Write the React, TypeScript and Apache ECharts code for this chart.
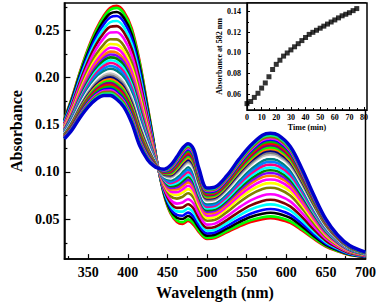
import React, { useEffect, useRef } from "react";
import * as echarts from "echarts";

// Wavelength grid (nm) at which the spectra were read
const wavelengths = [320, 330, 340, 350, 360, 370, 378, 386, 395, 405, 415, 425, 432, 438, 446, 454, 462, 469, 476, 483, 490, 500, 510, 525, 540, 555, 570, 580, 590, 605, 620, 635, 650, 665, 680, 700];

// First spectrum (t = 0, red)
const startSpectrum = [0.156, 0.180, 0.207, 0.231, 0.251, 0.266, 0.274, 0.276, 0.270, 0.252, 0.217, 0.170, 0.136, 0.106, 0.075, 0.056, 0.047, 0.045, 0.048, 0.044, 0.036, 0.029, 0.030, 0.036, 0.042, 0.047, 0.050, 0.051, 0.050, 0.046, 0.038, 0.029, 0.021, 0.016, 0.012, 0.010];

// Last spectrum (t = 75 min, thick blue)
const endSpectrum = [0.135, 0.145, 0.158, 0.169, 0.177, 0.181, 0.181, 0.177, 0.169, 0.152, 0.128, 0.113, 0.107, 0.104, 0.103, 0.107, 0.116, 0.125, 0.130, 0.124, 0.103, 0.083, 0.084, 0.096, 0.113, 0.128, 0.139, 0.141, 0.139, 0.127, 0.103, 0.075, 0.050, 0.033, 0.022, 0.015];

// Inset: absorbance at 582 nm vs time
const times = [0, 2.5, 5, 7.5, 10, 12.5, 15, 17.5, 20, 22.5, 25, 27.5, 30, 32.5, 35, 37.5, 40, 42.5, 45, 47.5, 50, 52.5, 55, 57.5, 60, 62.5, 65, 67.5, 70, 72.5, 75];
const abs582 = [0.051, 0.053, 0.057, 0.061, 0.066, 0.071, 0.077, 0.084, 0.089, 0.093, 0.097, 0.100, 0.103, 0.106, 0.109, 0.112, 0.115, 0.118, 0.120, 0.122, 0.124, 0.126, 0.128, 0.130, 0.132, 0.134, 0.136, 0.1375, 0.139, 0.141, 0.143];

const curveColors = ["#FF0000", "#00FF00", "#000000", "#0000FF", "#00FFFF", "#800000", "#FF00FF", "#808000", "#FFFF00", "#FF00FF", "#FF8000", "#8000FF", "#008000", "#00FFFF", "#FF0080", "#0080FF", "#008080", "#FFFFFF", "#C0C0C0", "#808080", "#000080", "#FF8000", "#00FF00", "#800080", "#FF0000", "#00C000", "#0000FF", "#FF00FF", "#808000", "#00FF80", "#0000CC"];

const xMajor = [350, 400, 450, 500, 550, 600, 650, 700];
const xMinor = [325, 375, 425, 475, 525, 575, 625, 675];
const yMajor = [0.05, 0.1, 0.15, 0.2, 0.25];
const yMinor = [0.025, 0.075, 0.125, 0.175, 0.225, 0.275];
const insetXMajor = [0, 10, 20, 30, 40, 50, 60, 70, 80];
const insetXMinor = [5, 15, 25, 35, 45, 55, 65, 75];
const insetYMajor = [0.06, 0.08, 0.1, 0.12, 0.14];
const insetYMinor = [0.05, 0.07, 0.09, 0.11, 0.13];

const FONT = "'Liberation Serif', 'Times New Roman', 'DejaVu Serif', serif";

export default function App() {
  const ref = useRef<HTMLDivElement>(null);
  useEffect(() => {
    document.body.style.margin = "0";
    const chart = echarts.init(ref.current!, undefined, { renderer: "svg" });
    const k0 = abs582[0];
    const kN = abs582[abs582.length - 1];
    const spectra = times.map((t, i) => {
      const frac = (abs582[i] - k0) / (kN - k0);
      const last = i === times.length - 1;
      return {
        type: "line",
        name: `${t} min`,
        xAxisIndex: 0,
        yAxisIndex: 0,
        showSymbol: false,
        smooth: 0.35,
        data: wavelengths.map((w, j) => [w, startSpectrum[j] + frac * (endSpectrum[j] - startSpectrum[j])]),
        lineStyle: { color: curveColors[i % curveColors.length], width: last ? 3.5 : 2.6 },
        z: 2 + i * 0.01,
      };
    });
    const axisLine = { show: true, lineStyle: { color: "#000", width: 1.5 } };
    const mainLabel = { fontFamily: FONT, fontWeight: "bold", fontSize: 14, color: "#000" };
    const insetLabel = { fontFamily: FONT, fontWeight: "bold", fontSize: 8, color: "#000" };
    chart.setOption({
      animation: false,
      backgroundColor: "#fff",
      grid: [
        { left: 52, top: 3, width: 315, height: 258, show: true, borderColor: "#000", borderWidth: 1.5, backgroundColor: "transparent" },
        { left: 247, top: 3, width: 120, height: 107, show: true, borderColor: "#000", borderWidth: 1.5, backgroundColor: "#fff", z: 10 },
      ],
      xAxis: [
        {
          type: "value", gridIndex: 0, min: 320, max: 700, position: "bottom",
          axisLine, splitLine: { show: false },
          axisTick: { show: true, inside: true, length: 5, customValues: xMajor, lineStyle: { color: "#000", width: 1.2 } },
          axisLabel: { ...mainLabel, margin: 6, customValues: xMajor },
          name: "Wavelength (nm)", nameLocation: "middle", nameGap: 24,
          nameTextStyle: { fontFamily: FONT, fontWeight: "bold", fontSize: 16, color: "#000" },
        },
        {
          type: "value", gridIndex: 0, min: 320, max: 700, position: "bottom",
          axisLine: { show: false }, splitLine: { show: false },
          axisTick: { show: true, inside: true, length: 3, customValues: xMinor, lineStyle: { color: "#000", width: 1.2 } },
          axisLabel: { show: false },
        },
        {
          type: "value", gridIndex: 1, min: 0, max: 82, position: "bottom",
          axisLine: { show: true, lineStyle: { color: "#000", width: 1.2 } }, splitLine: { show: false },
          axisTick: { show: true, inside: true, length: 3, customValues: insetXMajor, lineStyle: { color: "#000", width: 1 } },
          axisLabel: { ...insetLabel, margin: 3, customValues: insetXMajor },
          name: "Time (min)", nameLocation: "middle", nameGap: 13,
          nameTextStyle: { fontFamily: FONT, fontWeight: "bold", fontSize: 8, color: "#000" },
          z: 11,
        },
        {
          type: "value", gridIndex: 1, min: 0, max: 82, position: "bottom",
          axisLine: { show: false }, splitLine: { show: false },
          axisTick: { show: true, inside: true, length: 2, customValues: insetXMinor, lineStyle: { color: "#000", width: 1 } },
          axisLabel: { show: false },
          z: 11,
        },
      ],
      yAxis: [
        {
          type: "value", gridIndex: 0, min: 0.0077, max: 0.279, position: "left",
          axisLine, splitLine: { show: false },
          axisTick: { show: true, inside: true, length: 6, customValues: yMajor, lineStyle: { color: "#000", width: 1.2 } },
          axisLabel: { ...mainLabel, margin: 5, customValues: yMajor, formatter: (v: number) => v.toFixed(2) },
          name: "Absorbance", nameLocation: "middle", nameGap: 35,
          nameTextStyle: { fontFamily: FONT, fontWeight: "bold", fontSize: 16, color: "#000" },
        },
        {
          type: "value", gridIndex: 0, min: 0.0077, max: 0.279, position: "left",
          axisLine: { show: false }, splitLine: { show: false },
          axisTick: { show: true, inside: true, length: 3, customValues: yMinor, lineStyle: { color: "#000", width: 1.2 } },
          axisLabel: { show: false },
        },
        {
          type: "value", gridIndex: 1, min: 0.0448, max: 0.1484, position: "left",
          axisLine: { show: true, lineStyle: { color: "#000", width: 1.2 } }, splitLine: { show: false },
          axisTick: { show: true, inside: true, length: 3, customValues: insetYMajor, lineStyle: { color: "#000", width: 1 } },
          axisLabel: { ...insetLabel, margin: 6, customValues: insetYMajor, formatter: (v: number) => v.toFixed(2) },
          name: "Absorbance at 582 nm", nameLocation: "middle", nameGap: 20,
          nameTextStyle: { fontFamily: FONT, fontWeight: "bold", fontSize: 8, color: "#000" },
          z: 11,
        },
        {
          type: "value", gridIndex: 1, min: 0.0448, max: 0.1484, position: "left",
          axisLine: { show: false }, splitLine: { show: false },
          axisTick: { show: true, inside: true, length: 2, customValues: insetYMinor, lineStyle: { color: "#000", width: 1 } },
          axisLabel: { show: false },
          z: 11,
        },
      ],
      series: [
        ...spectra,
        {
          type: "scatter",
          name: "A582",
          xAxisIndex: 2,
          yAxisIndex: 2,
          symbol: "rect",
          symbolSize: 5,
          itemStyle: { color: "#000" },
          data: times.map((t, i) => [t, abs582[i]]),
          z: 12,
        },
      ],
    });
    return () => chart.dispose();
  }, []);
  return <div ref={ref} style={{ width: 379, height: 305 }} />;
}
